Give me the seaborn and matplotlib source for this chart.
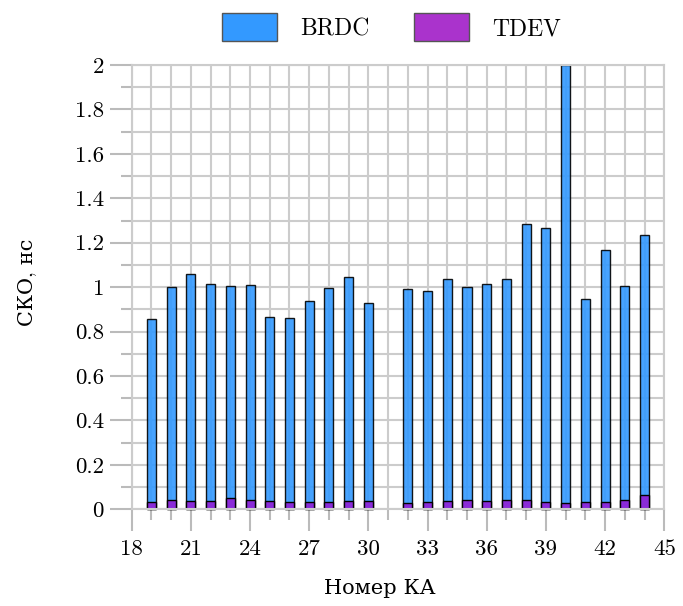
import matplotlib
matplotlib.use('Agg')
import matplotlib.pyplot as plt
import seaborn as sns
import numpy as np
import pandas as pd
from matplotlib.patches import Patch
from matplotlib.ticker import MultipleLocator, FuncFormatter

# Данные: номер КА и СКО (нс)
sat_num = [19, 20, 21, 22, 23, 24, 25, 26, 27, 28, 29, 30,
           32, 33, 34, 35, 36, 37, 38, 39, 40, 41, 42, 43, 44]
brdc = [0.858, 1.001, 1.058, 1.013, 1.004, 1.008, 0.864, 0.860, 0.936, 0.995, 1.047, 0.927,
        0.990, 0.983, 1.036, 1.000, 1.013, 1.036, 1.283, 1.265, 2.000, 0.947, 1.167, 1.007, 1.234]
tdev = [0.035, 0.041, 0.036, 0.036, 0.051, 0.042, 0.036, 0.032, 0.033, 0.033, 0.036, 0.039,
        0.029, 0.032, 0.036, 0.041, 0.036, 0.041, 0.042, 0.034, 0.027, 0.032, 0.032, 0.042, 0.063]

df = pd.DataFrame({'sat': sat_num, 'BRDC': brdc, 'TDEV': tdev})

sns.set_style('white')
plt.rcParams['font.family'] = ['cmr10', 'DejaVu Serif']
plt.rcParams['font.size'] = 16
plt.rcParams['axes.unicode_minus'] = False
plt.rcParams['text.color'] = 'black'
plt.rcParams['axes.labelcolor'] = 'black'
plt.rcParams['xtick.labelcolor'] = 'black'
plt.rcParams['ytick.labelcolor'] = 'black'

blue = '#3399ff'
purple_bar = '#8a2bd8'
purple_leg = '#aa33cc'
grid_c = '#cccccc'
tick_c = '#bbbbbb'

fig = plt.figure(figsize=(6.83, 6.06), dpi=100)
ax = fig.add_axes([0.1928, 0.1596, 0.9726 - 0.1928, 0.8927 - 0.1596])

sns.barplot(data=df, x='sat', y='BRDC', native_scale=True, width=0.46, color=blue,
            saturation=1, edgecolor='black', linewidth=1, alpha=0.9, ax=ax)
sns.barplot(data=df, x='sat', y='TDEV', native_scale=True, width=0.46, color=purple_bar,
            saturation=1, edgecolor='black', linewidth=1, ax=ax)
for p in ax.patches:
    p.set_clip_on(False)

ax.set_xlim(18, 45)
ax.set_ylim(0, 2)
ax.xaxis.set_major_locator(MultipleLocator(3))
ax.xaxis.set_minor_locator(MultipleLocator(1))
ax.yaxis.set_major_locator(MultipleLocator(0.2))
ax.yaxis.set_minor_locator(MultipleLocator(0.1))
ax.yaxis.set_major_formatter(FuncFormatter(lambda v, p: f'{v:g}'))
ax.xaxis.set_major_formatter(FuncFormatter(lambda v, p: f'{int(round(v))}'))

ax.set_axisbelow(True)
ax.grid(True, which='both', color=grid_c, linewidth=1.5)
for s in ax.spines.values():
    s.set_color(grid_c)
    s.set_linewidth(1.5)

ax.tick_params(axis='both', which='major', length=16, width=1.5, color=tick_c,
               labelsize=16.5, direction='out')
ax.tick_params(axis='both', which='minor', length=8, width=1.5, color=tick_c, direction='out')
ax.tick_params(axis='x', which='major', pad=6)
ax.tick_params(axis='y', which='major', pad=4)
ax.tick_params(left=True, bottom=True, which='both')

fig.canvas.draw()
xlabels = ax.get_xticklabels()
xlabels[0].set_horizontalalignment('left')
xlabels[-1].set_horizontalalignment('right')

ax.set_xlabel('Номер КА', fontsize=15)
ax.set_ylabel('СКО, нс', fontsize=15)
ax.xaxis.set_label_coords(0.465, -0.158)
ax.yaxis.set_label_coords(-0.179, 0.512)

handles = [Patch(facecolor=blue, edgecolor='#555555', linewidth=1),
           Patch(facecolor=purple_leg, edgecolor='#555555', linewidth=1)]
fig.legend(handles, ['BRDC', 'TDEV'], loc='center', bbox_to_anchor=(0.5735, 0.955),
           ncol=2, frameon=False, fontsize=17, handlelength=2.3, handleheight=1.45,
           handletextpad=1.0, columnspacing=1.9, borderpad=0)

fig.savefig('out.png', dpi=100)
